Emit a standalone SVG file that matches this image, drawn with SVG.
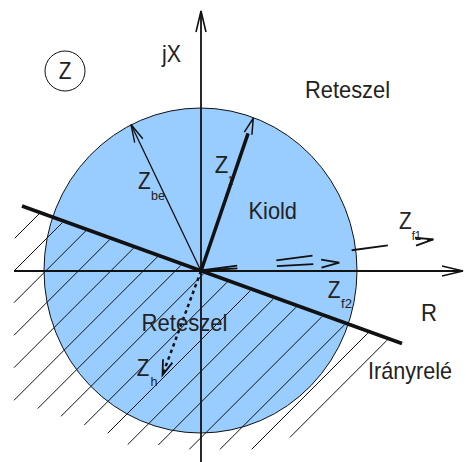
<svg xmlns="http://www.w3.org/2000/svg" width="466" height="462" viewBox="0 0 466 462">
<style>
  .t { font-family: "Liberation Sans", Arial, sans-serif; font-size: 24px; fill: #222; }
  .s { font-family: "Liberation Sans", Arial, sans-serif; font-size: 13px; fill: #222; }
  .hatch line { stroke: #111; stroke-width: 1; }
  .axis { stroke: #111; stroke-width: 1.8; fill: none; }
</style>
<defs>
  <marker id="axHead" markerUnits="userSpaceOnUse" orient="auto" markerWidth="30" markerHeight="16" refX="0" refY="0" viewBox="-24 -8 30 16" overflow="visible">
    <path d="M-21,-5 L0,0 L-21,5" fill="none" stroke="#111" stroke-width="1.6"/>
  </marker>
  <marker id="thinHead" markerUnits="userSpaceOnUse" orient="auto" markerWidth="30" markerHeight="16" refX="0" refY="0" viewBox="-24 -8 30 16" overflow="visible">
    <path d="M-18,-4.5 L0,0 L-18,4.5" fill="none" stroke="#111" stroke-width="1.4"/>
  </marker>
  <marker id="fHead" markerUnits="userSpaceOnUse" orient="auto" markerWidth="30" markerHeight="16" refX="0" refY="0" viewBox="-24 -8 30 16" overflow="visible">
    <path d="M-18,-4 L0,0 L-18,4" fill="none" stroke="#111" stroke-width="1.8" stroke-dasharray="none"/>
  </marker>
  <marker id="fwdHead" markerUnits="userSpaceOnUse" orient="auto" markerWidth="30" markerHeight="16" refX="0" refY="0" viewBox="-4 -8 30 16" overflow="visible">
    <path d="M0,-4 L16,0 L0,4" fill="none" stroke="#111" stroke-width="1.5"/>
  </marker>
  <marker id="hHead" markerUnits="userSpaceOnUse" orient="auto" markerWidth="30" markerHeight="16" refX="0" refY="0" viewBox="-24 -8 30 16" overflow="visible">
    <path d="M-15,-5 L0,0 L-15,5" fill="none" stroke="#111" stroke-width="1.8" stroke-dasharray="none"/>
  </marker>
</defs>

<g id="region">
  <ellipse cx="200.5" cy="270.5" rx="156.5" ry="162.5" fill="#99ccff" stroke="#111" stroke-width="1"/>
</g>

<g id="hatch" class="hatch">
  <line x1="14.7" y1="238.3" x2="39.1" y2="213.9"/>
  <line x1="14" y1="271" x2="62.5" y2="222.5"/>
  <line x1="14" y1="302.7" x2="85.8" y2="230.9"/>
  <line x1="14" y1="335.3" x2="109.7" y2="239.6"/>
  <line x1="14" y1="367.7" x2="133.5" y2="248.2"/>
  <line x1="14" y1="400.3" x2="157.4" y2="256.9"/>
  <line x1="37.7" y1="408.6" x2="180.9" y2="265.4"/>
  <line x1="61" y1="416.3" x2="203.6" y2="273.7"/>
  <line x1="84.3" y1="425" x2="227.1" y2="282.2"/>
  <line x1="107.7" y1="433.3" x2="250.4" y2="290.6"/>
  <line x1="127.7" y1="444.6" x2="273.3" y2="299"/>
  <line x1="158.3" y1="445" x2="296.1" y2="307.2"/>
  <line x1="189.3" y1="449.3" x2="322" y2="316.6"/>
  <line x1="220" y1="449.3" x2="344.5" y2="324.8"/>
  <line x1="251.7" y1="449.3" x2="367.8" y2="333.2"/>
  <line x1="290" y1="437.3" x2="387.1" y2="340.2"/>
</g>

<g id="axes">
  <line class="axis" x1="201" y1="462" x2="201" y2="11" marker-end="url(#axHead)"/>
  <line class="axis" x1="14" y1="271" x2="463" y2="271" marker-end="url(#axHead)"/>
</g>

<g id="label-Z1-sub">
  <text class="s" x="228" y="185" textLength="5" lengthAdjust="spacingAndGlyphs">1</text>
</g>

<g id="connectors">
  <line id="iranyrele-line" x1="22" y1="206" x2="402" y2="343.5" stroke="#111" stroke-width="3.5"/>
  <line id="v-Zbe" x1="201" y1="271" x2="131" y2="124.5" stroke="#111" stroke-width="1.3" marker-end="url(#thinHead)"/>
  <line id="v-Z1" x1="201" y1="271" x2="248.1" y2="133.4" stroke="#111" stroke-width="3.5" marker-end="url(#fwdHead)"/>
  <line id="v-Zf1" x1="201" y1="270.5" x2="433.3" y2="239.3" stroke="#111" stroke-width="1.8" stroke-dasharray="36.5 39.5" marker-end="url(#fHead)"/>
  <line id="v-Zf2" x1="201" y1="270.5" x2="339.3" y2="262.7" stroke="#111" stroke-width="1.8" stroke-dasharray="36.5 39.5" marker-end="url(#fHead)"/>
  <line id="v-Zh" x1="201" y1="271" x2="162.5" y2="375" stroke="#111" stroke-width="2.5" stroke-dasharray="3.5 3.5" marker-end="url(#hHead)"/>
</g>

<g id="node-Z">
  <circle cx="65" cy="71" r="20" fill="none" stroke="#111" stroke-width="1"/>
  <text class="t" x="58.7" y="79.3" textLength="12.7" lengthAdjust="spacingAndGlyphs">Z</text>
</g>
<g id="label-jX"><text class="t" x="162" y="61.5" textLength="19" lengthAdjust="spacingAndGlyphs">jX</text></g>
<g id="label-reteszel-top"><text class="t" x="305" y="98.3" textLength="85" lengthAdjust="spacingAndGlyphs">Reteszel</text></g>
<g id="label-kiold"><text class="t" x="248.5" y="219.3" textLength="48.5" lengthAdjust="spacingAndGlyphs">Kiold</text></g>
<g id="label-Zbe">
  <text class="t" x="138" y="189.3" textLength="12.7" lengthAdjust="spacingAndGlyphs">Z</text>
  <text class="s" x="151" y="200" textLength="14" lengthAdjust="spacingAndGlyphs">be</text>
</g>
<g id="label-Z1">
  <text class="t" x="214.8" y="173.3" textLength="13.5" lengthAdjust="spacingAndGlyphs">Z</text>
</g>
<g id="label-Zf1">
  <text class="t" x="399" y="229.3" textLength="12.7" lengthAdjust="spacingAndGlyphs">Z</text>
  <text class="s" x="411.7" y="240" textLength="9.5" lengthAdjust="spacingAndGlyphs">f1</text>
</g>
<g id="label-Zf2">
  <text class="t" x="327.7" y="297.7" textLength="12.7" lengthAdjust="spacingAndGlyphs">Z</text>
  <text class="s" x="341" y="308.3" textLength="11" lengthAdjust="spacingAndGlyphs">f2</text>
</g>
<g id="label-R"><text class="t" x="421" y="321" textLength="16" lengthAdjust="spacingAndGlyphs">R</text></g>
<g id="label-iranyrele"><text class="t" x="368" y="378.5" textLength="84" lengthAdjust="spacingAndGlyphs">Irányrelé</text></g>
<g id="label-reteszel-bottom"><text class="t" x="141.5" y="331" textLength="86" lengthAdjust="spacingAndGlyphs">Reteszel</text></g>
<g id="label-Zh">
  <text class="t" x="136.7" y="376" textLength="12.5" lengthAdjust="spacingAndGlyphs">Z</text>
  <text class="s" x="150.6" y="386" textLength="7" lengthAdjust="spacingAndGlyphs">h</text>
</g>
</svg>
